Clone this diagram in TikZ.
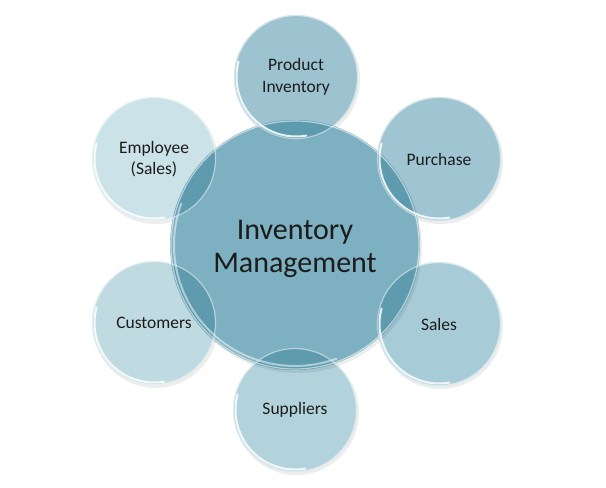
\documentclass[tikz,border=0pt]{standalone}
\usepackage{fontspec}
\setmainfont{Carlito}
\definecolor{cProd}{HTML}{9CC3CF}
\definecolor{cPurc}{HTML}{9EC5D1}
\definecolor{cSale}{HTML}{A7CCD7}
\definecolor{cSupp}{HTML}{B2D2DC}
\definecolor{cCust}{HTML}{C0DAE2}
\definecolor{cEmpl}{HTML}{CBE2E8}
\definecolor{cMain}{HTML}{7DB0C0}
\definecolor{cOver}{HTML}{5F9BAF}
\definecolor{cText}{HTML}{1C1C1C}
\begin{document}
\begin{tikzpicture}[x=1pt,y=1pt,
  sat/.style={circle, minimum size=124pt, inner sep=0pt, draw=none},
  mainc/.style={circle, minimum size=250pt, inner sep=0pt, draw=none},
  lbl/.style={align=center, text=cText, font=\fontsize{17.5}{21.5}\selectfont, inner sep=0pt},
  mainlbl/.style={align=center, text=cText, font=\fontsize{30}{33}\selectfont, inner sep=0pt},
  rim/.style={draw=white, draw opacity=0.55, line width=1.2pt},
  shine/.style={draw=white, draw opacity=0.85, line width=2pt, line cap=round},
  shade/.style={fill=black, fill opacity=0.07}]
\useasboundingbox (0,0) rectangle (606,488);
\fill[white] (0,0) rectangle (606,488);
% coordinates of centres
\coordinate (cm) at (295,243);
\coordinate (cp) at (296,411);
\coordinate (cu) at (439,329);
\coordinate (cs) at (439,164);
\coordinate (cq) at (295,78);
\coordinate (cc) at (154,165);
\coordinate (ce) at (154,329);
% soft shadows
\foreach \c in {cp,cu,cs,cq,cc,ce}{
  \fill[shade] ([shift={(1.5,-2.5)}]\c) circle (62.5);
}
% satellites
\node[sat, fill=cProd] (prod) at (cp) {};
\node[sat, fill=cPurc] (purc) at (cu) {};
\node[sat, fill=cSale] (sale) at (cs) {};
\node[sat, fill=cSupp] (supp) at (cq) {};
\node[sat, fill=cCust] (cust) at (cc) {};
\node[sat, fill=cEmpl] (empl) at (ce) {};
% centre
\fill[shade] ([shift={(2,-3)}]cm) circle (125);
\node[mainc, fill=cMain] (main) at (cm) {};
% overlaps
\foreach \c in {cp,cu,cs,cq,cc,ce}{
  \begin{scope}
    \clip (cm) circle (125);
    \fill[cOver] (\c) circle (62);
  \end{scope}
}
% rims and shines
\draw[rim] (cm) circle (124);
\draw[shine, draw opacity=0.5] ([shift={(160:121)}]cm) arc (160:290:121);
\foreach \c in {cp,cu,cs,cq,cc,ce}{
  \draw[rim] (\c) circle (61.5);
  \draw[shine] ([shift={(165:59.5)}]\c) arc (165:280:59.5);
}
% labels
\node[lbl] (tprod) at (prod) {Product\\Inventory};
\node[lbl] (tpurc) at (purc) {Purchase};
\node[lbl] (tsale) at (sale) {Sales};
\node[lbl] (tsupp) at (supp) {Suppliers};
\node[lbl] (tcust) at (cust) {Customers};
\node[lbl] (templ) at (empl) {Employee\\(Sales)};
\node[mainlbl] (tmain) at ([yshift=-4]main) {Inventory\\Management};
\end{tikzpicture}
\end{document}
